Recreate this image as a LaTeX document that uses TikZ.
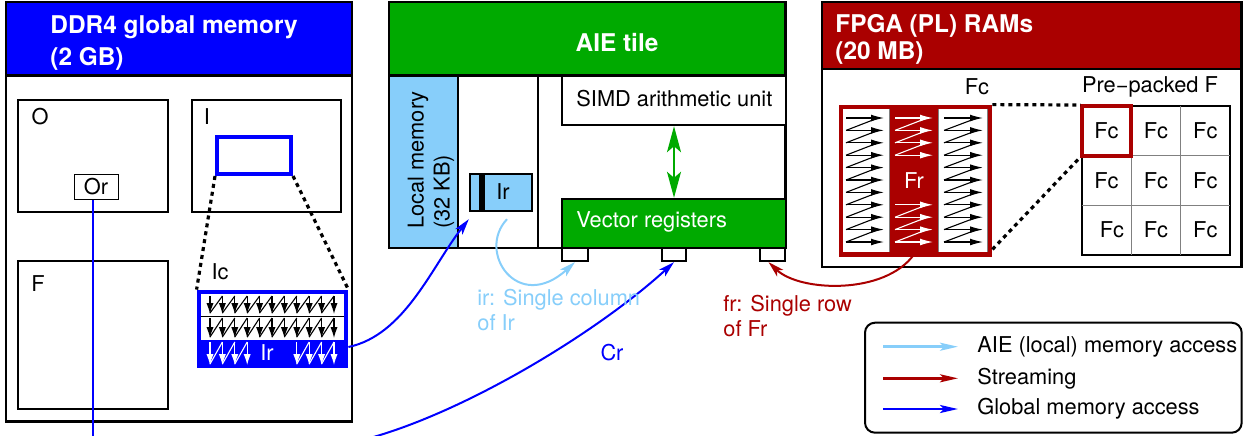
\documentclass[tikz,border=0pt]{standalone}
\usepackage{fontspec}
\setmainfont{TeX Gyre Heros}
\usetikzlibrary{arrows.meta,fit,calc}
\definecolor{ddrblue}{RGB}{0,0,255}
\definecolor{aiegreen}{RGB}{0,170,0}
\definecolor{plred}{RGB}{170,0,0}
\definecolor{lmblue}{RGB}{135,206,250}
\tikzset{
  lbl/.style={font=\fontsize{10.9}{13}\selectfont, inner sep=0pt},
  frame/.style={draw=black, line width=1.3pt, inner sep=0pt},
  box/.style={draw=black, line width=1pt, fill=white, inner sep=0pt},
  area/.style={inner sep=0pt},
  title/.style={font=\fontsize{12.2}{16}\selectfont\bfseries, text=white, align=left, inner sep=0pt},
  dotline/.style={line width=1.6pt, dash pattern=on 2pt off 2pt},
  smallarr/.style={line width=0.55pt, -{Latex[length=5.5pt,width=3.6pt]}},
  rowarr/.style={line width=0.55pt, -{Latex[length=6.5pt,width=3.4pt]}},
  curvearr/.style={line width=1pt, -{Stealth[length=8pt,width=4.5pt,inset=2pt]}},
  legarr/.style={line width=1.3pt, -{Stealth[length=9pt,width=4pt,inset=2pt]}},
}
\begin{document}
\begin{tikzpicture}[x=0.5pt,y=-0.5pt]
\useasboundingbox (0,0) rectangle (1247,435);
\clip (0,0) rectangle (1247,435);

% ---------------- DDR4 global memory ----------------
\node[frame, fill=white, fit={(6,75.7)(352,421.7)}] (ddrbody) {};
\node[frame, fill=ddrblue, fit={(6,2)(352,75.7)}] (ddrhead) {};
\node[title, anchor=west] (ddrtitle) at (50,43) {DDR4 global memory\\(2 GB)};

\node[box, fit={(18,100)(168,212)}] (O) {};
\node[lbl] (Olbl) at (40,117) {O};
\node[box, fit={(192,100)(341,212)}] (I) {};
\node[lbl] (Ilbl) at (207,117) {I};
\node[box, fit={(18,261)(168,409)}] (F) {};
\node[lbl] (Flbl) at (38,284) {F};

\node[draw=ddrblue, line width=2pt, area, fit={(217,137)(291,174)}] (irect) {};

% Ic block: two plain row bands and the blue Ir band
\node[area, fill=ddrblue, fit={(197,290)(348,368)}] (Ic) {};
\node[area, fill=white, fit={(201,294)(344,340)}] (Icw) {};
\draw[line width=0.6pt] (Icw.west |- 0,316.5) -- (Icw.east |- 0,316.5);
\node[lbl] (Iclbl) at (220,272) {Ic};
\foreach \i in {0,...,10} {
  \pgfmathsetmacro\xx{210+12.4*\i}
  \draw[smallarr] (\xx,296) -- (\xx,314);
  \draw[smallarr] (\xx,318) -- (\xx,338);
}
\foreach \i in {0,...,9} {
  \pgfmathsetmacro\xx{210+12.4*\i}
  \draw[line width=0.55pt] (\xx,313) -- (\xx+12.4,296);
  \draw[line width=0.55pt] (\xx,337) -- (\xx+12.4,318);
}
\foreach \i in {0,1,2,3,7,8,9,10} {
  \pgfmathsetmacro\xx{210+12.4*\i}
  \draw[smallarr, white] (\xx,342) -- (\xx,365);
}
\foreach \i in {0,1,2,7,8,9} {
  \pgfmathsetmacro\xx{210+12.4*\i}
  \draw[line width=0.55pt, white] (\xx,364) -- (\xx+12.4,342);
}
\node[lbl, text=white] (Irlbl) at (267,353) {Ir};

\draw[dotline] (irect.south west) -- (Ic.north west);
\draw[dotline] (irect.south east) -- (Ic.north east);

\node[draw=black, line width=0.5pt, fill=white, area, fit={(74,174)(118,199)},
  label={[lbl]center:Or}] (Or) {};
\coordinate (orend) at (93,440);
\draw[ddrblue, line width=1pt] (Or.south -| orend) -- (orend);

% ---------------- AIE tile ----------------
\node[frame, fill=white, fit={(389,75.7)(785.7,248)}] (aiebody) {};
\node[frame, fill=aiegreen, fit={(389,2)(785.7,75.7)}] (aiehead) {};
\node[title, anchor=center] (aietitle) at (617,43) {AIE tile};
\node[draw=black, line width=1.2pt, fill=lmblue, area, fit={(389,75.7)(457.7,248)}] (lmem) {};
\node[lbl, rotate=90, align=left] (lmemlbl) at (431,160) {Local memory\\(32 KB)};
\draw[line width=1.2pt] (537.7,75.7) -- (537.7,248);
\node[box, line width=1.2pt, fit={(562,75.7)(785.7,125)}] (simd) {};
\node[lbl, anchor=west] (simdlbl) at (576,99) {SIMD arithmetic unit};
\node[box, line width=1.2pt, fill=aiegreen, fit={(562,199)(785.7,248)}] (vr) {};
\node[lbl, anchor=west, text=white] (vrlbl) at (576,222) {Vector registers};
\node[draw=black, line width=1.2pt, fill=lmblue, area, fit={(470,174)(532,211)}] (irbox) {};
\fill (479,174) rectangle (485,211);
\node[lbl] (irboxlbl) at (503,192) {Ir};
\node[box, line width=1.1pt, fit={(562,248)(588,261)}] (port1) {};
\node[box, line width=1.1pt, fit={(662,248)(686,261)}] (port2) {};
\node[box, line width=1.1pt, fit={(760,248)(785,261)}] (port3) {};
\draw[aiegreen, line width=0.9pt, {Stealth[length=13pt,width=7pt,inset=3pt]}-{Stealth[length=13pt,width=7pt,inset=3pt]}]
  (simd.south -| port2.north) -- (vr.north -| port2.north);

% ---------------- FPGA (PL) RAMs ----------------
\node[frame, fill=white, fit={(822,69)(1241.7,267)}] (plbody) {};
\node[frame, fill=plred, fit={(822,2)(1241.7,69)}] (plhead) {};
\node[title, anchor=west, font=\fontsize{12.2}{13.5}\selectfont\bfseries] (pltitle) at (835,39) {FPGA (PL) RAMs\\(20 MB)};
\node[lbl] (fclbl) at (977,87) {Fc};
\node[lbl] (pplbl) at (1150,87) {Pre−packed F};

\node[area, fill=plred, fit={(839,105)(992,257)}] (fcblock) {};
\node[area, fill=white, fit={(843,109)(889,252)}] (fcleft) {};
\node[area, fill=white, fit={(939,109)(987,252)}] (fcright) {};
\node[area, fit={(889,109)(939,252)}, label={[lbl, text=white]center:Fr}] (frcol) {};
\draw[gray, line width=0.5pt] (fcleft.north east) -- (fcleft.south east);
\draw[gray, line width=0.5pt] (fcright.north west) -- (fcright.south west);
\draw[gray, line width=0.5pt] (fcright.north east) -- (fcright.south east);
\foreach \j in {0,...,10} {
  \pgfmathsetmacro\yy{118+12.4*\j}
  \draw[rowarr] (846,\yy) -- (884,\yy);
  \draw[rowarr] (944,\yy) -- (983,\yy);
}
\foreach \j in {0,...,9} {
  \pgfmathsetmacro\yy{118+12.4*\j}
  \draw[line width=0.55pt] (846,\yy+12.4) -- (878,\yy);
  \draw[line width=0.55pt] (944,\yy+12.4) -- (977,\yy);
}
\foreach \j in {0,1,2,3,7,8,9,10} {
  \pgfmathsetmacro\yy{118+12.4*\j}
  \draw[rowarr, white] (895,\yy) -- (933,\yy);
}
\foreach \j in {0,1,2,7,8,9} {
  \pgfmathsetmacro\yy{118+12.4*\j}
  \draw[line width=0.55pt, white] (895,\yy+12.4) -- (927,\yy);
}

\node[draw=black, line width=1pt, area, fit={(1081.7,106)(1230,255)}] (pgrid) {};
\draw[gray, line width=0.5pt] (1131.2,106) -- (1131.2,255) (1180.6,106) -- (1180.6,255)
  (1081.7,155.7) -- (1230,155.7) (1081.7,205.3) -- (1230,205.3);
\foreach \cx/\cy/\nm in {1155.9/130.8/c12, 1205.3/130.8/c13,
  1106.4/180.5/c21, 1155.9/180.5/c22, 1205.3/180.5/c23,
  1112/230.2/c31, 1155.9/230.2/c32, 1205.3/230.2/c33}
  \node[lbl] (\nm) at (\cx,\cy) {Fc};
\node[draw=plred, line width=2pt, area, fit={(1081.7,106)(1131.2,155.7)},
  label={[lbl]center:Fc}] (fccell) {};

\draw[dotline] (fcblock.north east) -- (pgrid.north west);
\draw[dotline] ([yshift=4pt]fcblock.south east) -- (fccell.south west);

% ---------------- transfers ----------------
\draw[curvearr, ddrblue] ([yshift=-9pt]Ic.east) .. controls (405,335) and (432,266) .. ([yshift=-3.5pt]irbox.south west);
\coordinate (crstart) at (370,438);
\draw[curvearr, ddrblue] (crstart) .. controls (470,410) and (600,330) .. (port2.south);
\node[lbl, text=ddrblue] (crlbl) at (612,353) {Cr};
\draw[curvearr, lmblue] ([xshift=3pt,yshift=-3.5pt]irbox.south) .. controls (476,252) and (518,314) .. (port1.south);
\node[lbl, text=lmblue, align=left, anchor=west, font=\fontsize{10.9}{12.5}\selectfont] (irlbl) at (477,310) {ir: Single column\\of Ir};
\draw[curvearr, plred] ([yshift=-1pt]frcol.south) .. controls (885,295) and (800,292) .. ([xshift=-2pt]port3.south);
\node[lbl, text=plred, align=left, anchor=west, font=\fontsize{10.9}{12.5}\selectfont] (frlbl) at (723,316) {fr: Single row\\of Fr};

% ---------------- legend ----------------
\node[draw=black, line width=1pt, rounded corners=5pt, area, fit={(865,322.7)(1241.7,432.7)}] (legend) {};
\coordinate (la1) at (883,346.7); \coordinate (lb1) at (958,346.7);
\coordinate (la2) at (883,378.3); \coordinate (lb2) at (958,378.3);
\coordinate (la3) at (883,409);   \coordinate (lb3) at (958,409);
\draw[legarr, lmblue] (la1) -- (lb1);
\draw[legarr, plred] (la2) -- (lb2);
\draw[legarr, ddrblue] (la3) -- (lb3);
\node[lbl, anchor=west] (lt1) at (977,346.7) {AIE (local) memory access};
\node[lbl, anchor=west] (lt2) at (977,378.3) {Streaming};
\node[lbl, anchor=west] (lt3) at (977,409) {Global memory access};
\end{tikzpicture}
\end{document}
